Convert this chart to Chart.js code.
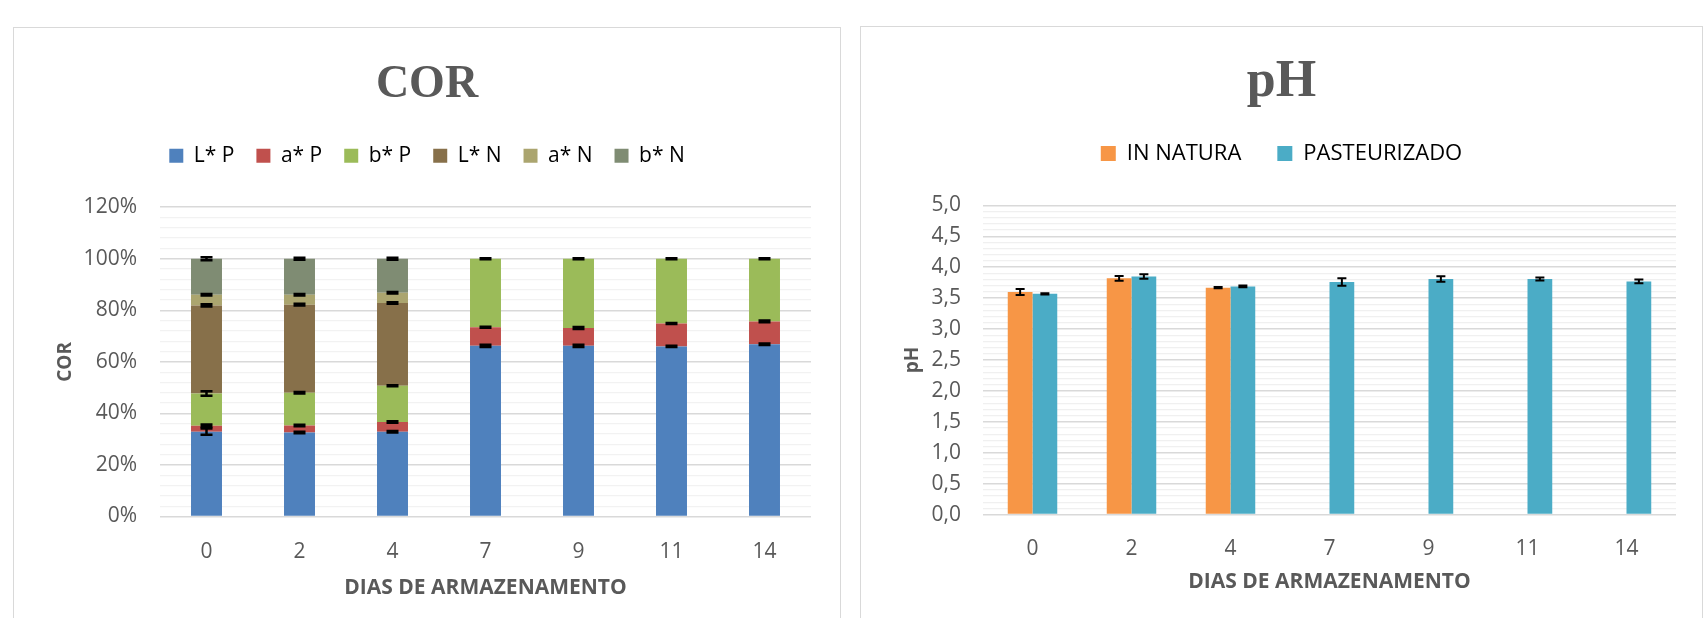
<!DOCTYPE html>
<html>
<head>
<meta charset="utf-8">
<script src="https://cdn.jsdelivr.net/npm/chart.js@4.4.1/dist/chart.umd.min.js"></script>
<style>
  html, body { margin: 0; padding: 0; background: #fff; width: 1704px; height: 618px; overflow: hidden; }
  .panel { position: absolute; border: 1px solid #d9d9d9; box-sizing: border-box; }
  .box { position: absolute; }
</style>
</head>
<body>
<div class="panel" style="left:13px; top:27px; width:828px; height:620px;"></div>
<div class="box" style="left:14px; top:28px; width:826px; height:590px;"><canvas id="corChart"></canvas></div>
<div class="panel" style="left:860px; top:26px; width:843px; height:620px;"></div>
<div class="box" style="left:861px; top:27px; width:841px; height:591px;"><canvas id="phChart"></canvas></div>
<script>
// dias de armazenamento
const dias = ['0', '2', '4', '7', '9', '11', '14'];

// COR (100% empilhado) - fatia de cada componente, em %
const lP = [32.9, 32.6, 32.9, 66.2, 66.2, 66.0, 66.8];
const aP = [2.3, 2.7, 3.8, 7.2, 6.9, 8.9, 8.9];
const bP = [12.5, 12.7, 14.0, 26.6, 26.9, 25.1, 24.3];
const lN = [34.2, 34.2, 32.1, null, null, null, null];
const aN = [4.1, 3.8, 4.0, null, null, null, null];
const bN = [14.0, 14.0, 13.2, null, null, null, null];

// desvios (barras de erro) da COR
const errLP = [1.2, 0.3, 0.3, 0.4, 0.4, 0.2, 0.3];
const errAP = [0.5, 0.3, 0.3, 0.2, 0.4, 0.2, 0.3];
const errBP = [0.9, 0.3, 0.2, 0.2, 0.2, 0.2, 0.2];
const errLN = [0.4, 0.3, 0.3, null, null, null, null];
const errAN = [0.3, 0.3, 0.3, null, null, null, null];
const errBN = [0.6, 0.4, 0.4, null, null, null, null];

// pH
const inNatura = [3.60, 3.82, 3.67, null, null, null, null];
const pasteurizado = [3.57, 3.85, 3.69, 3.76, 3.81, 3.81, 3.77];
const errInNatura = [0.05, 0.04, 0.01, null, null, null, null];
const errPasteurizado = [0.01, 0.035, 0.015, 0.06, 0.045, 0.025, 0.03];

Chart.defaults.font.family = "'Open Sans', sans-serif";
Chart.defaults.color = '#595959';
Chart.defaults.animation = false;

// barras de erro desenhadas por cima das barras
const errorBars = {
  id: 'errorBars',
  afterDatasetsDraw(chart, args, opts) {
    const ctx = chart.ctx;
    const yScale = chart.scales.y;
    ctx.save();
    ctx.strokeStyle = '#000';
    ctx.lineWidth = opts.lineWidth || 2;
    chart.data.datasets.forEach((ds, di) => {
      if (!ds.errors) return;
      const meta = chart.getDatasetMeta(di);
      meta.data.forEach((el, i) => {
        const v = ds.data[i];
        const e = ds.errors[i];
        if (v == null || e == null) return;
        const dy = Math.abs(yScale.getPixelForValue(e) - yScale.getPixelForValue(0));
        const half = opts.cap / 2;
        ctx.beginPath();
        ctx.moveTo(el.x, el.y - dy);
        ctx.lineTo(el.x, el.y + dy);
        ctx.moveTo(el.x - half, el.y - dy);
        ctx.lineTo(el.x + half, el.y - dy);
        ctx.moveTo(el.x - half, el.y + dy);
        ctx.lineTo(el.x + half, el.y + dy);
        ctx.stroke();
      });
    });
    ctx.restore();
  }
};

// espaço extra entre a legenda e o gráfico
const legendGap = {
  id: 'legendGap',
  beforeInit(chart) {
    const fit = chart.legend.fit;
    chart.legend.fit = function () {
      fit.bind(chart.legend)();
      this.height += chart.options.plugins.legendGap.extra;
    };
  }
};

const corChart = new Chart(document.getElementById('corChart'), {
  type: 'bar',
  data: {
    labels: dias,
    datasets: [
      { label: 'L* P', data: lP, errors: errLP, backgroundColor: '#4F81BD' },
      { label: 'a* P', data: aP, errors: errAP, backgroundColor: '#C0504D' },
      { label: 'b* P', data: bP, errors: errBP, backgroundColor: '#9BBB59' },
      { label: 'L* N', data: lN, errors: errLN, backgroundColor: '#87704A' },
      { label: 'a* N', data: aN, errors: errAN, backgroundColor: '#ABA56F' },
      { label: 'b* N', data: bN, errors: errBN, backgroundColor: '#7F8C73' }
    ]
  },
  options: {
    responsive: true,
    maintainAspectRatio: false,
    layout: { padding: { left: 0, right: 0, top: 0, bottom: 17.5 } },
    categoryPercentage: 1,
    barPercentage: 0.333,
    plugins: {
      tooltip: { enabled: false },
      title: {
        display: true,
        text: 'COR',
        color: '#595959',
        font: { family: "'Liberation Serif', serif", size: 46, weight: 'bold' },
        padding: { top: 30, bottom: 10 }
      },
      legend: {
        labels: { boxWidth: 14, boxHeight: 14, padding: 22, color: '#000', font: { size: 21 } }
      },
      legendGap: { extra: 31 },
      errorBars: { cap: 12, lineWidth: 2.5 }
    },
    scales: {
      x: {
        stacked: true,
        grid: { display: false },
        border: { display: false },
        ticks: { padding: 15, font: { size: 21 } },
        title: { display: true, text: 'DIAS DE ARMAZENAMENTO', font: { size: 21, weight: 'bold' }, padding: { top: 0, bottom: 0 } },
        afterFit(scale) { scale.height = 84; }
      },
      y: {
        stacked: true,
        min: 0,
        max: 120,
        grid: {
          drawTicks: false,
          color: (c) => (c.tick && c.tick.value % 20 === 0 ? '#d9d9d9' : '#f2f2f2'),
          lineWidth: (c) => (c.tick && c.tick.value % 20 === 0 ? 1.6 : 1.3)
        },
        border: { display: false },
        ticks: {
          stepSize: 4,
          autoSkip: false,
          padding: 23,
          font: { size: 21 },
          callback: (v) => (v % 20 === 0 ? v + '%' : '')
        },
        title: { display: true, text: 'COR', font: { size: 19, weight: 'bold' }, padding: { top: 40, bottom: 0 } },
        afterFit(scale) { scale.width = 146; }
      },
      // eixo vazio à direita, só para a margem (mantém título e legenda centrados no painel)
      yR: {
        position: 'right',
        grid: { display: false },
        border: { display: false },
        ticks: { display: false },
        afterFit(scale) { scale.width = 29; }
      }
    }
  },
  plugins: [errorBars, legendGap]
});

const phChart = new Chart(document.getElementById('phChart'), {
  type: 'bar',
  data: {
    labels: dias,
    datasets: [
      { label: 'IN NATURA', data: inNatura, errors: errInNatura, backgroundColor: '#F79646' },
      { label: 'PASTEURIZADO', data: pasteurizado, errors: errPasteurizado, backgroundColor: '#4BACC6' }
    ]
  },
  options: {
    responsive: true,
    maintainAspectRatio: false,
    layout: { padding: { left: 0, right: 0, top: 0, bottom: 23.4 } },
    categoryPercentage: 0.5,
    barPercentage: 1,
    plugins: {
      tooltip: { enabled: false },
      title: {
        display: true,
        text: 'pH',
        color: '#595959',
        font: { family: "'Liberation Serif', serif", size: 52, weight: 'bold' },
        padding: { top: 24, bottom: -7 }
      },
      legend: {
        labels: { boxWidth: 15, boxHeight: 15, padding: 36, color: '#000', font: { size: 22 } }
      },
      legendGap: { extra: 31 },
      errorBars: { cap: 9, lineWidth: 2 }
    },
    scales: {
      x: {
        grid: { display: false },
        border: { display: false },
        ticks: { padding: 14, font: { size: 21 } },
        title: { display: true, text: 'DIAS DE ARMAZENAMENTO', font: { size: 21, weight: 'bold' }, padding: { top: 0, bottom: 0 } },
        afterFit(scale) { scale.height = 80; }
      },
      y: {
        min: 0,
        max: 5,
        grid: {
          drawTicks: false,
          color: (c) => (c.tick && Math.round(c.tick.value * 10) % 5 === 0 ? '#d9d9d9' : '#f0f0f0'),
          lineWidth: (c) => (c.tick && Math.round(c.tick.value * 10) % 5 === 0 ? 1.6 : 1.3)
        },
        border: { display: false },
        ticks: {
          stepSize: 0.1,
          autoSkip: false,
          padding: 22,
          font: { size: 21 },
          callback: (v) => (Math.round(v * 10) % 5 === 0 ? v.toFixed(1).replace('.', ',') : '')
        },
        title: { display: true, text: 'pH', font: { size: 19, weight: 'bold' }, padding: { top: 40, bottom: 0 } },
        afterFit(scale) { scale.width = 122; }
      },
      yR: {
        position: 'right',
        grid: { display: false },
        border: { display: false },
        ticks: { display: false },
        afterFit(scale) { scale.width = 26; }
      }
    }
  },
  plugins: [errorBars, legendGap]
});
</script>
</body>
</html>
